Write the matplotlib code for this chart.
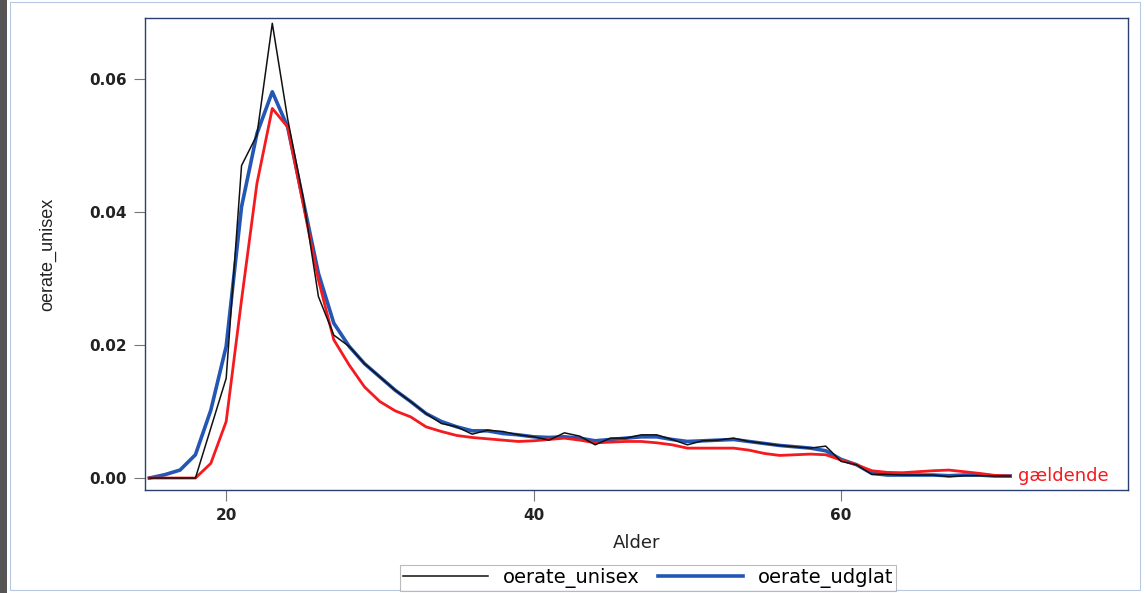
import matplotlib
matplotlib.use("Agg")
import matplotlib.pyplot as plt
from matplotlib.patches import Rectangle

ages = list(range(15, 72))

oerate_unisex = [
    0.0, 0.0, 0.0, 0.0, 0.0075, 0.0150, 0.0470, 0.0516, 0.0684, 0.0540,
    0.0423, 0.0273, 0.0215, 0.0198, 0.0172, 0.0152, 0.0132, 0.0115, 0.0097, 0.0082,
    0.0077, 0.0066, 0.0072, 0.0070, 0.0065, 0.0062, 0.0057, 0.0068, 0.0063, 0.0050,
    0.0060, 0.0060, 0.0065, 0.0065, 0.0058, 0.0050, 0.0056, 0.0057, 0.0060, 0.0055,
    0.0052, 0.0049, 0.0047, 0.0045, 0.0048, 0.0025, 0.0020, 0.00055, 0.00055, 0.00045,
    0.00045, 0.00045, 0.0002, 0.00035, 0.00035, 0.0003, 0.0003,
]

oerate_udglat = [
    0.0, 0.0005, 0.0012, 0.0035, 0.0102, 0.0198, 0.0408, 0.0518, 0.0581, 0.0528,
    0.0418, 0.0308, 0.0233, 0.0198, 0.0172, 0.0152, 0.0132, 0.0115, 0.0097, 0.0085,
    0.0077, 0.0071, 0.0071, 0.0067, 0.0065, 0.0062, 0.0061, 0.0062, 0.0060, 0.0056,
    0.0058, 0.0060, 0.0062, 0.0062, 0.0058, 0.0055, 0.0056, 0.0057, 0.0058, 0.0055,
    0.0052, 0.0049, 0.0047, 0.0045, 0.0041, 0.0028, 0.0020, 0.0007, 0.00045, 0.00045,
    0.00045, 0.00045, 0.00035, 0.00045, 0.00045, 0.0003, 0.0003,
]

gaeldende = [
    0.0, 0.0, 0.0, 0.0, 0.0022, 0.0085, 0.0268, 0.0443, 0.0556, 0.0528,
    0.0413, 0.0298, 0.0208, 0.0170, 0.0137, 0.0115, 0.0101, 0.0092, 0.0077, 0.0070,
    0.0064, 0.0061, 0.0059, 0.0057, 0.0055, 0.0056, 0.0058, 0.0060, 0.0057, 0.0053,
    0.0054, 0.0055, 0.0055, 0.0053, 0.0050, 0.0045, 0.0045, 0.0045, 0.0045, 0.0042,
    0.0037, 0.0034, 0.0035, 0.0036, 0.0035, 0.0027, 0.0020, 0.0011, 0.00085, 0.0008,
    0.00095, 0.0011, 0.0012, 0.00095, 0.0007, 0.0004, 0.0003,
]

xticks = [20, 40, 60]
yticks = [0.00, 0.02, 0.04, 0.06]
ytick_labels = ["0.00", "0.02", "0.04", "0.06"]

plt.rcParams['font.family'] = ['DejaVu Sans']

fig = plt.figure(figsize=(11.45, 5.93), dpi=100)
ax = fig.add_axes([145/1145, 1-490/593, (1128-145)/1145, (490-18)/593])

# outer frame / left strip like the scanned image
fig.patches.append(Rectangle((0, 0), 7/1145, 1, transform=fig.transFigure,
                             facecolor="#555555", edgecolor="none", zorder=0))
fig.patches.append(Rectangle((10/1145, 3/593), 1130/1145, 588/593, transform=fig.transFigure,
                             facecolor="none", edgecolor="#b8c8e0", linewidth=0.8, zorder=0))

ax.plot(ages, oerate_udglat, color="#2456b4", linewidth=2.6, label="oerate_udglat", zorder=2)
ax.plot(ages, gaeldende, color="#f51a1f", linewidth=2.0, zorder=3)
ax.plot(ages, oerate_unisex, color="#111111", linewidth=1.1, label="oerate_unisex", zorder=4)

ax.text(ages[-1] + 0.5, gaeldende[-1], "gældende", color="#f51a1f", fontsize=13,
        va="center", ha="left")

ax.set_xlim(14.72, 78.66)
ax.set_ylim(-0.0018, 0.0692)
ax.set_xticks(xticks)
ax.set_yticks(yticks)
ax.set_yticklabels(ytick_labels)
ax.tick_params(axis="both", direction="out", length=8, width=0.8, color="#777777",
               labelsize=11, labelcolor="#222222", pad=5)
for lbl in ax.get_yticklabels() + ax.get_xticklabels():
    lbl.set_fontweight("bold")

for sp in ax.spines.values():
    sp.set_color("#2a3f6e")
    sp.set_linewidth(1.0)

ax.set_xlabel("Alder", fontsize=13, color="#222222", labelpad=8)
ax.set_ylabel("oerate_unisex", fontsize=13, color="#222222",
              family=['Liberation Sans Narrow', 'Liberation Sans', 'DejaVu Sans'], labelpad=24)

handles, labels = ax.get_legend_handles_labels()
order = [1, 0]
leg = fig.legend([handles[i] for i in order], [labels[i] for i in order],
                 loc="center", bbox_to_anchor=(648/1145, 1-578/593), ncol=2,
                 frameon=True, fancybox=False, fontsize=14, handlelength=4.4,
                 columnspacing=0.95, borderpad=0.15, handletextpad=0.75)
leg.get_frame().set_edgecolor("#aaaaaa")
leg.get_frame().set_linewidth(0.8)

fig.savefig("out.png", dpi=100)
